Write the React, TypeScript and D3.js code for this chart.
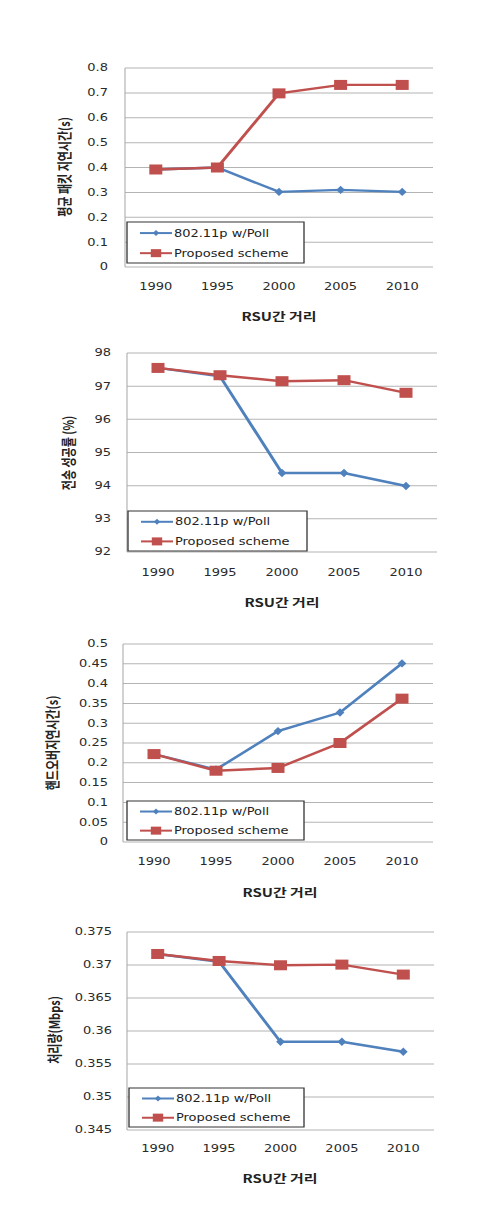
import React from "react";
import * as d3 from "d3";

const years = ["1990", "1995", "2000", "2005", "2010"];
const seriesNames = ["802.11p w/Poll", "Proposed scheme"];
const xTitle = "RSU간 거리";

const delayBlue = [0.392, 0.4, 0.302, 0.31, 0.302];
const delayRed = [0.392, 0.4, 0.698, 0.732, 0.732];
const delayTicks = [0, 0.1, 0.2, 0.3, 0.4, 0.5, 0.6, 0.7, 0.8];

const successBlue = [97.55, 97.3, 94.38, 94.38, 93.99];
const successRed = [97.55, 97.33, 97.15, 97.18, 96.8];
const successTicks = [92, 93, 94, 95, 96, 97, 98];

const handoverBlue = [0.222, 0.183, 0.28, 0.327, 0.451];
const handoverRed = [0.222, 0.18, 0.187, 0.25, 0.362];
const handoverTicks = [0, 0.05, 0.1, 0.15, 0.2, 0.25, 0.3, 0.35, 0.4, 0.45, 0.5];

const tputBlue = [0.37167, 0.3705, 0.35836, 0.35836, 0.35685];
const tputRed = [0.37167, 0.37061, 0.36996, 0.37006, 0.36855];
const tputTicks = [0.345, 0.35, 0.355, 0.36, 0.365, 0.37, 0.375];

const SX = 1.3;
const BLUE = "#4F81BD";
const RED = "#C0504D";

type ChartSpec = {
  blue: number[];
  red: number[];
  ticks: number[];
  fmt: (v: number) => string;
  yTitle: string;
  left: number;
  right: number;
  top: number;
  bottom: number;
  labelRight: number;
  yearY: number;
  titleY: number;
  titleX: number;
  yTitleX: number;
  yTitleY: number;
  legend: [number, number, number, number];
};

const charts: ChartSpec[] = [
  {
    blue: delayBlue, red: delayRed, ticks: delayTicks, fmt: (v) => String(v),
    yTitle: "평균 패킷 지연시간(s)",
    left: 125, right: 433, top: 68, bottom: 267, labelRight: 108,
    yearY: 287, titleY: 317, titleX: 279, yTitleX: 65, yTitleY: 167,
    legend: [127, 222, 304, 263],
  },
  {
    blue: successBlue, red: successRed, ticks: successTicks, fmt: (v) => String(v),
    yTitle: "전송 성공률 (%)",
    left: 127, right: 437, top: 353, bottom: 552, labelRight: 111,
    yearY: 573, titleY: 603, titleX: 282, yTitleX: 69, yTitleY: 453,
    legend: [128, 511, 307, 551],
  },
  {
    blue: handoverBlue, red: handoverRed, ticks: handoverTicks, fmt: (v) => String(v),
    yTitle: "핸드오버지연시간(s)",
    left: 123, right: 433, top: 644, bottom: 842, labelRight: 108,
    yearY: 862, titleY: 893, titleX: 280, yTitleX: 53, yTitleY: 743,
    legend: [127, 801, 304, 840],
  },
  {
    blue: tputBlue, red: tputRed, ticks: tputTicks, fmt: (v) => String(v),
    yTitle: "처리량(Mbps)",
    left: 127, right: 434, top: 932, bottom: 1130, labelRight: 112,
    yearY: 1149, titleY: 1179, titleX: 280, yTitleX: 55, yTitleY: 1030,
    legend: [129, 1088, 304, 1127],
  },
];

function Diamond({ x, y, r }: { x: number; y: number; r: number }) {
  return (
    <path
      d={`M${x},${y - r}L${x + r * 0.8},${y}L${x},${y + r}L${x - r * 0.8},${y}Z`}
      fill={BLUE}
    />
  );
}

function Chart({ c }: { c: ChartSpec }) {
  const x = d3
    .scaleBand<string>()
    .domain(years)
    .range([c.left / SX, c.right / SX]);
  const y = d3
    .scaleLinear()
    .domain([c.ticks[0], c.ticks[c.ticks.length - 1]])
    .range([c.bottom, c.top]);
  const cx = (i: number) => (x(years[i]) as number) + x.bandwidth() / 2;
  const line = d3
    .line<number>()
    .x((_, i) => cx(i))
    .y((d) => y(d));
  const [lx0, ly0, lx1, ly1] = c.legend;
  const lgX0 = lx0 / SX;
  const lgX1 = lx1 / SX;
  const row1 = ly0 + (ly1 - ly0) * 0.27;
  const row2 = ly0 + (ly1 - ly0) * 0.76;
  const segA = 140 / SX - (127 - lx0) / SX;
  const segB = segA + 32 / SX;
  return (
    <g transform={`scale(${SX},1)`}>
      {c.ticks.map((t) => (
        <line
          key={"g" + t}
          x1={c.left / SX}
          x2={c.right / SX}
          y1={y(t)}
          y2={y(t)}
          stroke="#b4b4b4"
          strokeWidth={1}
        />
      ))}
      <line x1={c.left / SX} x2={c.left / SX} y1={c.top} y2={c.bottom} stroke="#a8a8a8" strokeWidth={0.8} />
      {c.ticks.map((t) => (
        <text
          key={"t" + t}
          x={c.labelRight / SX}
          y={y(t)}
          dy="0.35em"
          textAnchor="end"
          fontSize={10}
          fontFamily="DejaVu Sans"
          fill="#2a2a2a"
        >
          {c.fmt(t)}
        </text>
      ))}
      {years.map((yr, i) => (
        <text
          key={yr}
          x={cx(i)}
          y={c.yearY}
          dy="0.35em"
          textAnchor="middle"
          fontSize={10}
          fontFamily="DejaVu Sans"
          fill="#2a2a2a"
        >
          {yr}
        </text>
      ))}
      <text
        x={c.titleX / SX}
        y={c.titleY}
        dy="0.35em"
        textAnchor="middle"
        fontSize={11.5}
        fontWeight="bold"
        fontFamily="'Noto Sans CJK KR', 'DejaVu Sans'"
        fill="#222"
      >
        {xTitle}
      </text>
      <text
        transform={`translate(${c.yTitleX / SX},${c.yTitleY}) rotate(-90)`}
        dy="0.35em"
        textAnchor="middle"
        fontSize={11}
        fontWeight="bold"
        fontFamily="'Noto Sans CJK KR', 'DejaVu Sans'"
        fill="#222"
      >
        {c.yTitle}
      </text>
      <path d={line(c.blue) || ""} fill="none" stroke={BLUE} strokeWidth={2.4} />
      {c.blue.map((v, i) => (
        <Diamond key={"b" + i} x={cx(i)} y={y(v)} r={4.2} />
      ))}
      <path d={line(c.red) || ""} fill="none" stroke={RED} strokeWidth={2.4} />
      {c.red.map((v, i) => (
        <rect key={"r" + i} x={cx(i) - 5} y={y(v) - 5} width={10} height={10} fill={RED} />
      ))}
      <rect
        x={lgX0}
        y={ly0}
        width={lgX1 - lgX0}
        height={ly1 - ly0}
        fill="white"
        stroke="#333"
        strokeWidth={1}
      />
      <line x1={segA} x2={segB} y1={row1} y2={row1} stroke={BLUE} strokeWidth={2} />
      <Diamond x={(segA + segB) / 2} y={row1} r={3} />
      <line x1={segA} x2={segB} y1={row2} y2={row2} stroke={RED} strokeWidth={2} />
      <rect x={(segA + segB) / 2 - 4} y={row2 - 4} width={8} height={8} fill={RED} />
      {seriesNames.map((n, i) => (
        <text
          key={n}
          x={segB + 1.5}
          y={i === 0 ? row1 : row2}
          dy="0.35em"
          fontSize={10}
          fontFamily="DejaVu Sans"
          fill="#222"
        >
          {n}
        </text>
      ))}
    </g>
  );
}

export default function App() {
  return (
    <svg
      width={493}
      height={1212}
      style={{ position: "absolute", left: 0, top: 0, background: "white" }}
    >
      <rect width={493} height={1212} fill="white" />
      {charts.map((c, i) => (
        <Chart key={i} c={c} />
      ))}
    </svg>
  );
}
